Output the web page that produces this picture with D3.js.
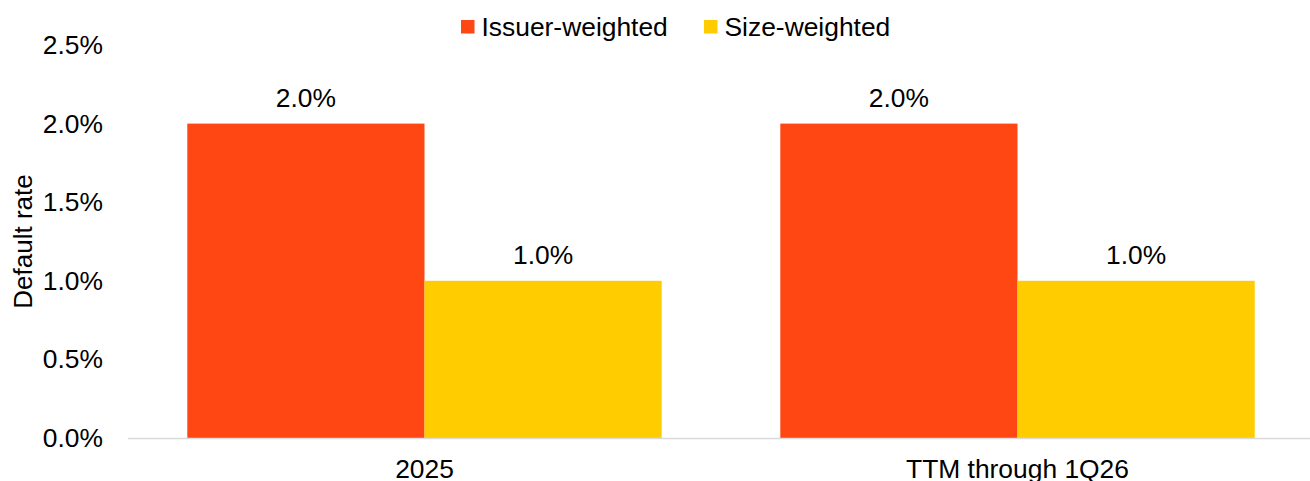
<!DOCTYPE html>
<html lang="en">
<head>
<meta charset="utf-8">
<title>Default rate</title>
<script src="https://d3js.org/d3.v7.min.js"></script>
<style>
 body { margin: 0; background: #fff; }
 text { font-family: "Liberation Sans", Arial, sans-serif; fill: #000; }
</style>
</head>
<body>
<script>
// data
const categories = ['2025', 'TTM through 1Q26'];
const series = ['Issuer-weighted', 'Size-weighted'];
const issuerWeighted = [0.020, 0.020];
const sizeWeighted = [0.010, 0.010];
const yTicks = [0, 0.005, 0.010, 0.015, 0.020, 0.025];
const colors = ['#ff4713', '#ffcc00'];

const width = 1310, height = 481;
const margin = {top: 45, bottom: 43, left: 128};
const plotRight = 1314; // last category band runs just past the edge
const fs = 26.4;

const rows = categories.map((c, i) => ({cat: c, values: [issuerWeighted[i], sizeWeighted[i]]}));

const svg = d3.select('body').append('svg')
  .attr('width', width)
  .attr('height', height);

const x0 = d3.scaleBand()
  .domain(categories)
  .range([margin.left, plotRight])
  .padding(0);

const x1 = d3.scaleBand()
  .domain(series)
  .range([0, x0.bandwidth()])
  .paddingInner(0)
  .paddingOuter(0.25);

const y = d3.scaleLinear()
  .domain([0, 0.025])
  .range([height - margin.bottom, margin.top]);

const fmt = d3.format('.1%');

// y axis labels (no line)
const yAxis = svg.append('g')
  .attr('transform', 'translate(' + (margin.left - 25) + ',0)')
  .call(d3.axisLeft(y).tickValues(yTicks).tickFormat(fmt).tickSize(0).tickPadding(0));
yAxis.select('.domain').remove();
yAxis.selectAll('text').style('font-size', fs + 'px').attr('fill', '#000');

// bars
const groups = svg.selectAll('.grp')
  .data(rows)
  .enter()
  .append('g')
  .attr('transform', d => 'translate(' + x0(d.cat) + ',0)');

groups.selectAll('rect')
  .data(d => d.values.map((v, i) => ({s: series[i], v: v, i: i})))
  .enter()
  .append('rect')
  .attr('x', d => x1(d.s))
  .attr('y', d => y(d.v))
  .attr('width', x1.bandwidth())
  .attr('height', d => y(0) - y(d.v))
  .attr('fill', d => colors[d.i]);

groups.selectAll('.val')
  .data(d => d.values.map((v, i) => ({s: series[i], v: v})))
  .enter()
  .append('text')
  .attr('x', d => x1(d.s) + x1.bandwidth() / 2)
  .attr('y', d => y(d.v) - 17)
  .attr('text-anchor', 'middle')
  .style('font-size', fs + 'px')
  .text(d => fmt(d.v));

// x axis line
svg.append('line')
  .attr('x1', margin.left)
  .attr('x2', width)
  .attr('y1', y(0) + 0.5)
  .attr('y2', y(0) + 0.5)
  .attr('stroke', '#d9d9d9')
  .attr('stroke-width', 1.5);

// x labels (bottom edge clips them, as in the source)
svg.selectAll('.xl')
  .data(categories)
  .enter()
  .append('text')
  .attr('x', d => x0(d) + x0.bandwidth() / 2)
  .attr('y', 478)
  .attr('text-anchor', 'middle')
  .style('font-size', fs + 'px')
  .text(d => d);

// y title
svg.append('text')
  .attr('transform', 'translate(32,' + ((y(0) + y(0.025)) / 2) + ') rotate(-90)')
  .attr('text-anchor', 'middle')
  .style('font-size', '26px')
  .text('Default rate');

// legend
const legendX = [461, 704];
const legend = svg.selectAll('.lg')
  .data(series)
  .enter()
  .append('g')
  .attr('transform', (d, i) => 'translate(' + legendX[i] + ',20)');
legend.append('rect')
  .attr('width', 13.5)
  .attr('height', 13.5)
  .attr('fill', (d, i) => colors[i]);
legend.append('text')
  .attr('x', 20.5)
  .attr('y', 16)
  .style('font-size', fs + 'px')
  .text(d => d);
</script>
</body>
</html>
